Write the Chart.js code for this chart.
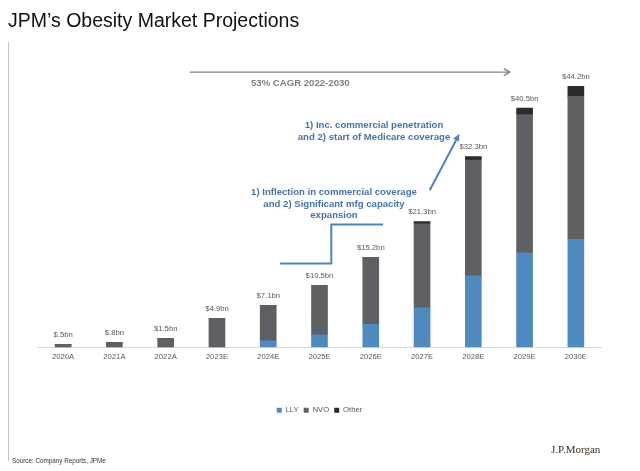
<!DOCTYPE html>
<html>
<head>
<meta charset="utf-8">
<script src="https://cdn.jsdelivr.net/npm/chart.js@4"></script>
<style>
  html, body { margin: 0; padding: 0; background: #fff; }
  body { width: 640px; height: 471px; position: relative; overflow: hidden; font-family: "Liberation Sans", Arial, sans-serif; }
  #wrap { position: absolute; left: 0; top: 0; width: 640px; height: 471px; }
  .abs { position: absolute; white-space: nowrap; }
  #title { left: 8px; top: 10px; font-size: 19.5px; line-height: 20px; color: #111; }
  #vline { position: absolute; left: 8px; top: 42px; width: 1px; height: 419px; background: #c4c4c4; }
  #cagr { left: 251px; top: 77px; font-size: 9.6px; line-height: 12px; font-weight: bold; color: #7f7f7f; }
  .note { font-size: 9.6px; line-height: 11.5px; font-weight: bold; color: #4674a8; text-align: center; width: 220px; }
  #note1 { left: 264px; top: 119px; }
  #note2 { left: 224px; top: 186px; }
  #source { left: 12px; top: 457px; font-size: 6.3px; line-height: 8px; color: #333; }
  #logo { left: 551px; top: 443px; font-family: "Liberation Serif", "DejaVu Serif", serif; font-size: 11px; line-height: 13px; color: #3a2d25; }
</style>
</head>
<body>
<div id="wrap"><canvas id="c"></canvas></div>
<div id="vline"></div>
<div class="abs" id="title">JPM’s Obesity Market Projections</div>
<div class="abs" id="cagr">53% CAGR 2022-2030</div>
<div class="abs note" id="note1">1) Inc. commercial penetration<br>and 2) start of Medicare coverage</div>
<div class="abs note" id="note2">1) Inflection in commercial coverage<br>and 2) Significant mfg capacity<br>expansion</div>
<div class="abs" id="source">Source: Company Reports, JPMe</div>
<div class="abs" id="logo">J.P.Morgan</div>
<script>
// ---- data ----
const categories = ['2020A', '2021A', '2022A', '2023E', '2024E', '2025E', '2026E', '2027E', '2028E', '2029E', '2030E'];
const llyValues   = [0,   0,   0,   0,   1.1, 2.1, 3.9,  6.7,  12.1, 16.0, 18.3];
const nvoValues   = [0.5, 0.8, 1.5, 4.9, 6.0, 8.4, 11.2, 14.2, 19.6, 23.4, 24.2];
const otherValues = [0,   0,   0,   0,   0,   0,   0.1,  0.4,  0.6,  1.1,  1.7];
const totalLabels = ['$.5bn', '$.8bn', '$1.5bn', '$4.9bn', '$7.1bn', '$10.5bn', '$15.2bn', '$21.3bn', '$32.3bn', '$40.5bn', '$44.2bn'];
const seriesNames = ['LLY', 'NVO', 'Other'];

const totalLabelPlugin = {
  id: 'totalLabels',
  afterDatasetsDraw(chart) {
    const ctx = chart.ctx;
    const last = chart.getDatasetMeta(chart.data.datasets.length - 1);
    ctx.save();
    ctx.font = '7.7px "Liberation Sans", Arial, sans-serif';
    ctx.fillStyle = '#595959';
    ctx.textAlign = 'center';
    ctx.textBaseline = 'alphabetic';
    last.data.forEach((el, i) => {
      ctx.fillText(totalLabels[i], el.x, el.y - 7.5);
    });
    ctx.restore();
  }
};

function arrowHead(ctx, x1, y1, x2, y2, len, half, filled) {
  const a = Math.atan2(y2 - y1, x2 - x1);
  const bx = x2 - len * Math.cos(a), by = y2 - len * Math.sin(a);
  const px = -Math.sin(a) * half, py = Math.cos(a) * half;
  ctx.beginPath();
  ctx.moveTo(bx + px, by + py);
  ctx.lineTo(x2, y2);
  ctx.lineTo(bx - px, by - py);
  if (filled) { ctx.closePath(); ctx.fill(); } else { ctx.stroke(); }
}

const annotationPlugin = {
  id: 'annotations',
  afterDraw(chart) {
    const { ctx, scales: { x, y } } = chart;
    ctx.save();
    // CAGR arrow
    const ax1 = x.getPixelForValue(2.47), ax2 = x.getPixelForValue(8.71), ay = y.getPixelForValue(46.6);
    ctx.strokeStyle = '#7f7f7f';
    ctx.lineWidth = 1.3;
    ctx.beginPath(); ctx.moveTo(ax1, ay); ctx.lineTo(ax2, ay); ctx.stroke();
    arrowHead(ctx, ax1, ay, ax2, ay, 6, 3.5, false);
    // step line
    ctx.strokeStyle = '#4f81bd';
    ctx.lineWidth = 2;
    const s1 = x.getPixelForValue(4.23), s2 = x.getPixelForValue(5.23), s3 = x.getPixelForValue(6.24);
    const sy1 = y.getPixelForValue(14.17), sy2 = y.getPixelForValue(20.8);
    ctx.beginPath();
    ctx.moveTo(s1, sy1); ctx.lineTo(s2, sy1); ctx.lineTo(s2, sy2); ctx.lineTo(s3, sy2);
    ctx.stroke();
    // diagonal arrow
    const d1x = x.getPixelForValue(7.15), d1y = y.getPixelForValue(26.6);
    const d2x = x.getPixelForValue(7.72), d2y = y.getPixelForValue(36.0);
    ctx.beginPath(); ctx.moveTo(d1x, d1y); ctx.lineTo(d2x, d2y); ctx.stroke();
    ctx.fillStyle = '#4f81bd';
    arrowHead(ctx, d1x, d1y, d2x, d2y, 6, 3.5, true);
    ctx.restore();
  }
};

new Chart(document.getElementById('c'), {
  type: 'bar',
  data: {
    labels: categories,
    datasets: [
      { label: seriesNames[0], data: llyValues,   backgroundColor: '#4f8abf' },
      { label: seriesNames[1], data: nvoValues,   backgroundColor: '#5f6064' },
      { label: seriesNames[2], data: otherValues, backgroundColor: '#2b2b2b' }
    ]
  },
  options: {
    responsive: true,
    maintainAspectRatio: false,
    animation: false,
    layout: { padding: { top: 52, left: 37.5, right: 38.5, bottom: 47 } },
    datasets: { bar: { barThickness: 16 } },
    plugins: {
      legend: {
        position: 'bottom',
        labels: {
          boxWidth: 5, boxHeight: 5, padding: 5,
          color: '#595959',
          font: { size: 7.7, family: '"Liberation Sans", Arial, sans-serif' }
        }
      },
      tooltip: { enabled: false },
      title: { display: false }
    },
    scales: {
      x: {
        stacked: true,
        grid: { display: false, drawTicks: false },
        border: { display: true, color: '#d9d9d9', width: 1 },
        ticks: {
          color: '#595959', padding: 5, maxRotation: 0, autoSkip: false,
          font: { size: 7.7, family: '"Liberation Sans", Arial, sans-serif' }
        },
        afterFit(scale) { scale.height = 54; }
      },
      y: {
        stacked: true,
        display: false,
        min: 0,
        max: 50
      }
    }
  },
  plugins: [totalLabelPlugin, annotationPlugin]
});
</script>
</body>
</html>
